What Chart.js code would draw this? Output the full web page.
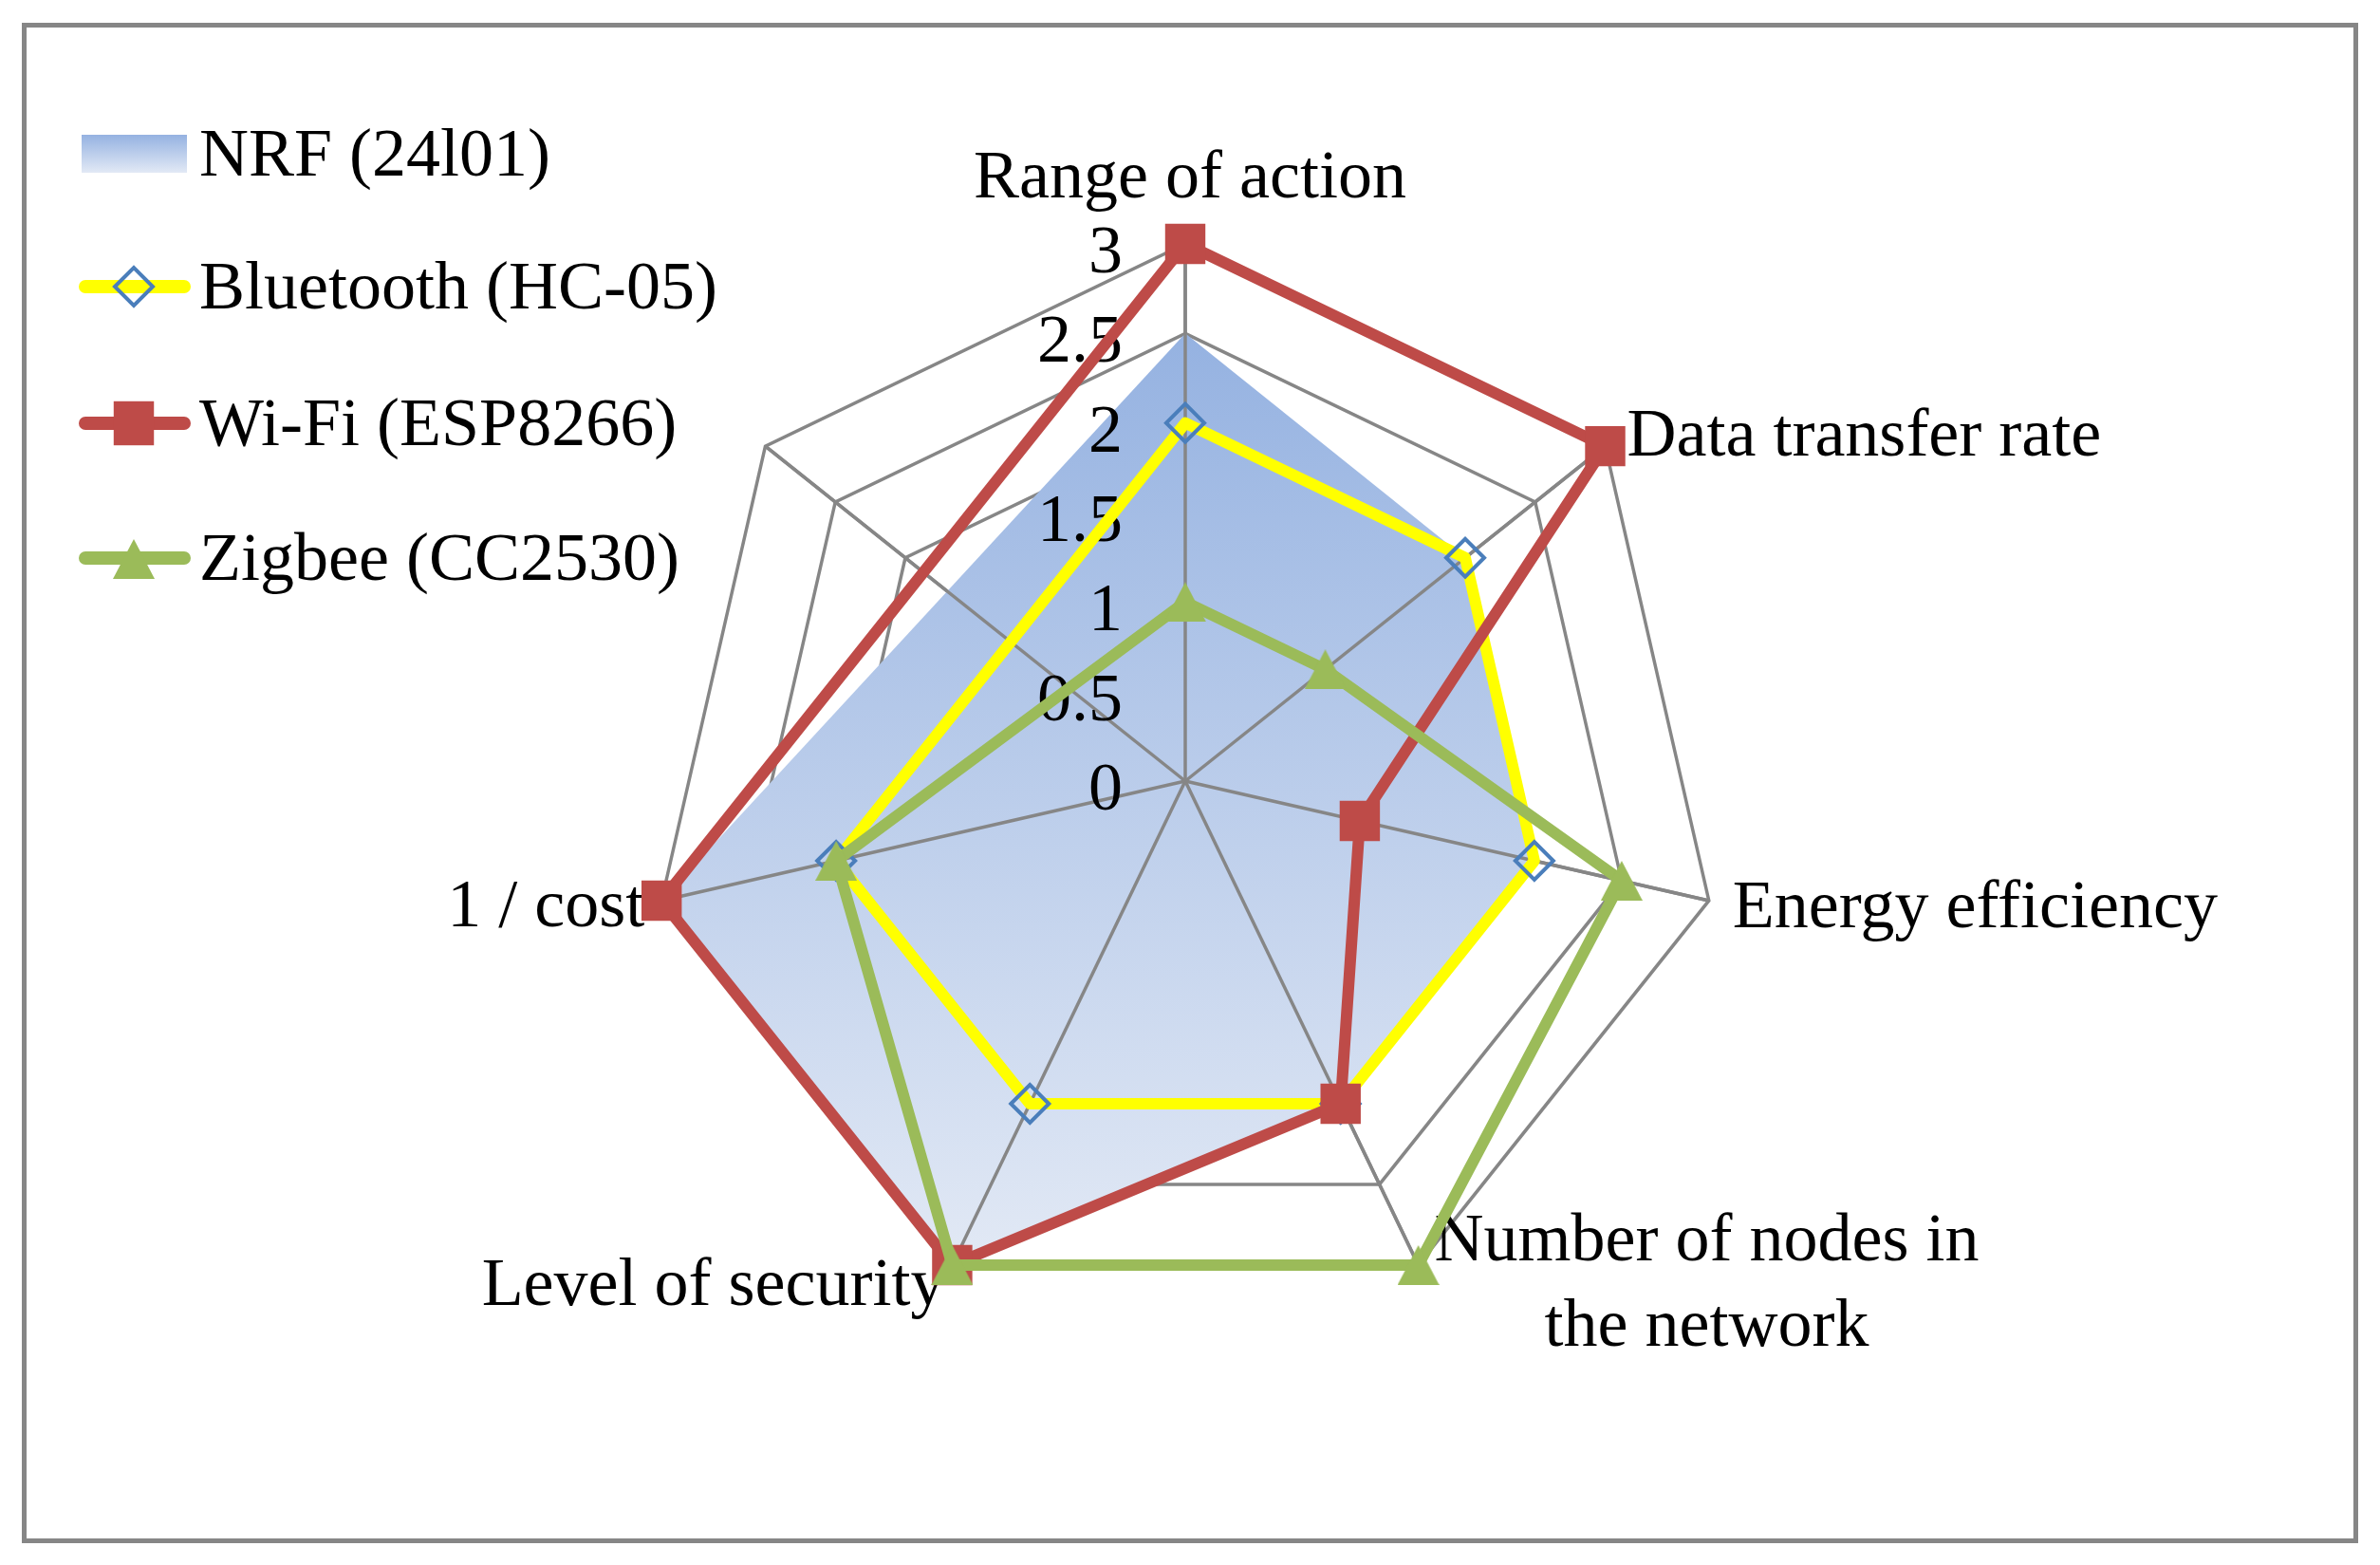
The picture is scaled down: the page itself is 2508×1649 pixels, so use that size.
<!DOCTYPE html>
<html>
<head>
<meta charset="utf-8">
<script src="https://cdn.jsdelivr.net/npm/chart.js@4.4.1/dist/chart.umd.min.js"></script>
<style>
html, body { margin: 0; padding: 0; background: #ffffff; }
canvas { display: block; }
</style>
</head>
<body>
<canvas id="chart" width="2508" height="1649"></canvas>
<script>
// ---------------- data ----------------
const categories = ['Range of action', 'Data transfer rate', 'Energy efficiency',
  ['Number of nodes in', 'the network'], 'Level of security', '1 / cost', ''];
const seriesNames = ['NRF (24l01)', 'Bluetooth (HC-05)', 'Wi-Fi (ESP8266)', 'Zigbee (CC2530)'];
const nrfValues       = [2.5, 2, 2,   2, 3, 3, null];
const bluetoothValues = [2,   2, 2,   2, 2, 2, null];
const wifiValues      = [3,   3, 1,   2, 3, 3, null];
const zigbeeValues    = [1,   1, 2.5, 3, 3, 2, null];
const tickLabels = ['0', '0.5', '1', '1.5', '2', '2.5', '3'];

// ---------------- styles ----------------
const FONT_FAMILY = '"Liberation Serif", "Times New Roman", serif';
const FONT_SIZE = 72;
const GRID = '#868686';
const GRID_W = 3.5;
const RED = '#BE4B48';
const GREEN = '#9BBB59';
const YELLOW = '#FFFF00';
const BLUE = '#4A7EBB';
const FILL_TOP = '#95B2E1';
const FILL_BOTTOM = '#E2E9F5';

function triangleImage(w, h, color) {
  const c = document.createElement('canvas');
  c.width = w; c.height = h;
  const g = c.getContext('2d');
  g.fillStyle = color;
  g.beginPath();
  g.moveTo(w / 2, 0);
  g.lineTo(w, h);
  g.lineTo(0, h);
  g.closePath();
  g.fill();
  return c;
}
const triImg = triangleImage(44, 42, GREEN);

function nrfGradient(context) {
  const chart = context.chart;
  const scale = chart.scales && chart.scales.r;
  if (!chart.chartArea || !scale) return FILL_TOP;
  let top = Infinity, bottom = -Infinity;
  nrfValues.forEach((v, i) => {
    if (v === null) return;
    const p = scale.getPointPositionForValue(i, v);
    top = Math.min(top, p.y);
    bottom = Math.max(bottom, p.y);
  });
  const g = chart.ctx.createLinearGradient(0, top, 0, bottom);
  g.addColorStop(0, FILL_TOP);
  g.addColorStop(1, FILL_BOTTOM);
  return g;
}

// label placement relative to each axis end (style only)
const labelPlacement = [
  { align: 'center', dx: 5, dy: -49 },
  { align: 'left', dx: 23, dy: 10 },
  { align: 'left', dx: 25, dy: 28 },
  { align: 'block', dx: 17, dy: -5, lh: 90 },
  { align: 'right', dx: -8, dy: 42 },
  { align: 'right', dx: -18, dy: 27 },
  { align: 'center', dx: 0, dy: 0 }
];
const legendRows = [162, 302, 446, 588];

const decor = {
  id: 'decor',
  beforeDraw(chart) {
    const ctx = chart.ctx;
    ctx.save();
    ctx.fillStyle = '#ffffff';
    ctx.fillRect(0, 0, chart.width, chart.height);
    ctx.strokeStyle = GRID;
    ctx.lineWidth = 5;
    ctx.strokeRect(25.5, 26.5, 2457, 1597);
    ctx.restore();
  },
  beforeDatasetsDraw(chart) {
    // category labels
    const ctx = chart.ctx;
    const scale = chart.scales.r;
    ctx.save();
    ctx.font = FONT_SIZE + 'px ' + FONT_FAMILY;
    ctx.fillStyle = '#000000';
    ctx.textBaseline = 'alphabetic';
    categories.forEach((lab, i) => {
      const p = scale.getPointPosition(i, scale.drawingArea);
      const pl = labelPlacement[i];
      if (Array.isArray(lab)) {
        const w0 = ctx.measureText(lab[0]).width;
        const cx = p.x + pl.dx + w0 / 2;
        ctx.textAlign = 'center';
        lab.forEach((line, k) => ctx.fillText(line, cx, p.y + pl.dy + k * pl.lh));
      } else if (lab) {
        ctx.textAlign = pl.align;
        ctx.fillText(lab, p.x + pl.dx, p.y + pl.dy);
      }
    });
    ctx.restore();
  },
  afterDatasetDraw(chart, args) {
    if (args.index !== 0) return;
    const scale = chart.scales.r;
    const ctx = chart.ctx;
    ctx.save();
    // spokes over the filled area (rings stay underneath)
    ctx.strokeStyle = GRID;
    ctx.lineWidth = GRID_W;
    categories.forEach((lab, i) => {
      const p = scale.getPointPosition(i, scale.drawingArea);
      ctx.beginPath();
      ctx.moveTo(scale.xCenter, scale.yCenter);
      ctx.lineTo(p.x, p.y);
      ctx.stroke();
    });
    // tick labels
    ctx.font = FONT_SIZE + 'px ' + FONT_FAMILY;
    ctx.fillStyle = '#000000';
    ctx.textAlign = 'right';
    ctx.textBaseline = 'alphabetic';
    scale.ticks.forEach(t => {
      const d = scale.getDistanceFromCenterForValue(t.value);
      ctx.fillText(t.label, scale.xCenter - 66, scale.yCenter - d + 30);
    });
    ctx.restore();
  },
  afterDraw(chart) {
    const ctx = chart.ctx;
    ctx.save();
    chart.data.datasets.forEach((ds, i) => {
      const cy = legendRows[i];
      if (i === 0) {
        const g = ctx.createLinearGradient(0, cy - 20, 0, cy + 20);
        g.addColorStop(0, FILL_TOP);
        g.addColorStop(1, FILL_BOTTOM);
        ctx.fillStyle = g;
        ctx.fillRect(86, cy - 20, 111, 40);
      } else {
        ctx.strokeStyle = ds.borderColor;
        ctx.lineWidth = 14;
        ctx.lineCap = 'round';
        ctx.beginPath();
        ctx.moveTo(90, cy);
        ctx.lineTo(194, cy);
        ctx.stroke();
        const cx = 141;
        if (ds.pointStyle === 'rectRot') {
          const r = ds.pointRadius;
          ctx.strokeStyle = ds.pointBorderColor;
          ctx.lineWidth = ds.pointBorderWidth;
          ctx.lineCap = 'butt';
          ctx.beginPath();
          ctx.moveTo(cx - r, cy); ctx.lineTo(cx, cy - r);
          ctx.lineTo(cx + r, cy); ctx.lineTo(cx, cy + r);
          ctx.closePath();
          ctx.stroke();
        } else if (ds.pointStyle === 'rect') {
          const s = ds.pointRadius * Math.SQRT1_2;
          ctx.fillStyle = ds.pointBackgroundColor;
          ctx.fillRect(cx - s, cy - s - 2, 2 * s, 2 * s + 4);
        } else {
          const img = ds.pointStyle;
          ctx.drawImage(img, cx - img.width / 2, cy - img.height / 2 + 1);
        }
      }
      ctx.font = FONT_SIZE + 'px ' + FONT_FAMILY;
      ctx.fillStyle = '#000000';
      ctx.textAlign = 'left';
      ctx.textBaseline = 'alphabetic';
      ctx.fillText(ds.label, 210, cy + 23);
    });
    ctx.restore();
  }
};

new Chart(document.getElementById('chart'), {
  type: 'radar',
  data: {
    labels: categories,
    datasets: [
      {
        label: seriesNames[0], data: nrfValues, order: 4,
        fill: 'shape', backgroundColor: nrfGradient,
        borderWidth: 0, borderColor: 'rgba(0,0,0,0)', pointRadius: 0, spanGaps: true
      },
      {
        label: seriesNames[1], data: bluetoothValues, order: 3, fill: false,
        borderColor: YELLOW, borderWidth: 12, borderJoinStyle: 'round', spanGaps: true,
        pointStyle: 'rectRot', pointRadius: 20, pointBorderColor: BLUE, pointBorderWidth: 4,
        pointBackgroundColor: 'rgba(0,0,0,0)'
      },
      {
        label: seriesNames[2], data: wifiValues, order: 2, fill: false,
        borderColor: RED, borderWidth: 12, borderJoinStyle: 'round', spanGaps: true,
        pointStyle: 'rect', pointRadius: 30, pointBorderWidth: 0,
        pointBackgroundColor: RED, pointBorderColor: RED
      },
      {
        label: seriesNames[3], data: zigbeeValues, order: 1, fill: false,
        borderColor: GREEN, borderWidth: 12, borderJoinStyle: 'round', spanGaps: true,
        pointStyle: triImg, pointRadius: 22, pointBorderWidth: 0,
        pointBackgroundColor: GREEN, pointBorderColor: GREEN
      }
    ]
  },
  options: {
    responsive: false,
    maintainAspectRatio: false,
    devicePixelRatio: 1,
    animation: false,
    events: [],
    layout: { padding: { top: 257, bottom: 260, left: 400, right: 410 } },
    plugins: { legend: { display: false }, tooltip: { enabled: false }, title: { display: false } },
    scales: {
      r: {
        min: 0, max: 3,
        ticks: { display: false, stepSize: 0.5, callback: (v, i) => tickLabels[i] !== undefined ? tickLabels[i] : String(v) },
        pointLabels: { display: false },
        grid: { color: GRID, lineWidth: GRID_W },
        angleLines: { color: GRID, lineWidth: GRID_W }
      }
    }
  },
  plugins: [decor]
});
</script>
</body>
</html>
